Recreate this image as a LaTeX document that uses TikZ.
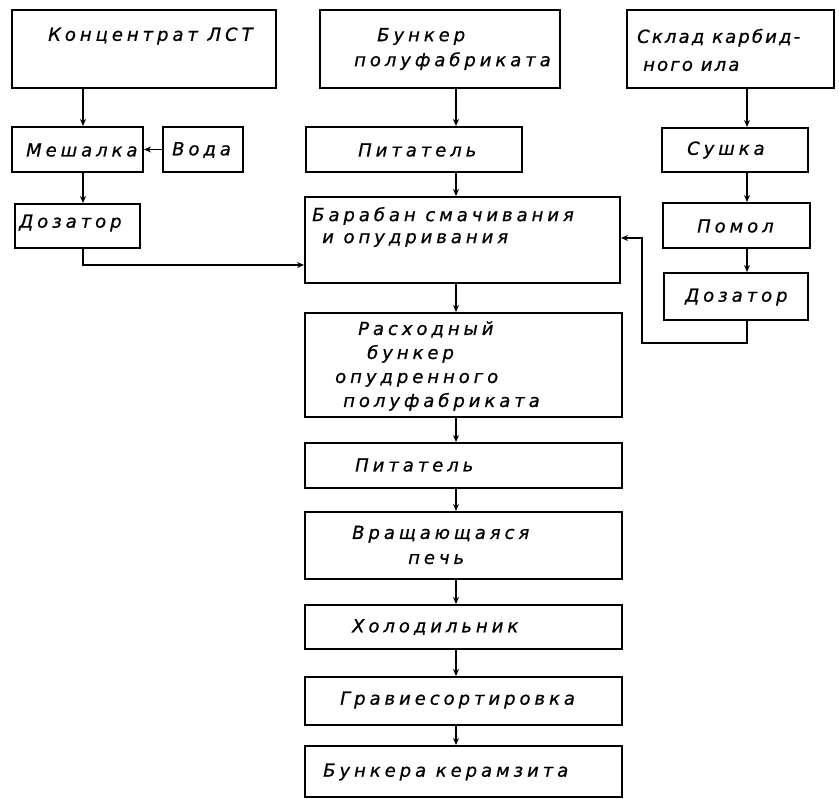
\documentclass[tikz,border=0pt]{standalone}
\usepackage{fontspec}
\usetikzlibrary{arrows.meta}
\newfontfamily\hand[LetterSpace=22,FakeBold=0.8]{DejaVu Sans}
\newfontfamily\handnarrow[LetterSpace=12,FakeBold=0.8]{DejaVu Sans}
\tikzset{
  unit/.style={draw, line width=2pt, inner sep=0pt},
  txt/.style={anchor=west, inner sep=0pt, align=left,
    font=\hand\itshape\fontsize{18}{25}\selectfont},
  flow/.style={line width=1.8pt, -{Stealth[length=7pt,width=6pt]}},
}
\begin{document}
\begin{tikzpicture}[x=1pt,y=-1pt]
    \useasboundingbox (0,0) rectangle (839,799);
    %% left branch
    \node[unit, minimum width=264pt, minimum height=78pt] (konc) at (144,49) {};
    \node[txt] (konct) at (48,36) {Концентрат ЛСТ};
    \node[unit, minimum width=131pt, minimum height=45pt] (mesh) at (77.5,149.5) {};
    \node[txt] (mesht) at (26,150) {Мешалка};
    \node[unit, minimum width=80pt, minimum height=45pt] (voda) at (203,149.5) {};
    \node[txt] (vodat) at (172,150) {Вода};
    \node[unit, minimum width=125pt, minimum height=44pt] (dozL) at (77.5,226) {};
    \node[txt] (dozLt) at (19,223) {Дозатор};
    %% main line
    \node[unit, minimum width=240pt, minimum height=78pt] (bunk) at (440,49) {};
    \node[txt] (bunkt) at (354,49) {\hspace{23pt}Бункер\\полуфабриката};
    \node[unit, minimum width=216pt, minimum height=45pt] (pit1) at (414,149.5) {};
    \node[txt] (pit1t) at (358,150) {Питатель};
    \node[unit, minimum width=315pt, minimum height=86pt] (baraban) at (462.5,240) {};
    \node[txt] (barabant) at (312,227) {Барабан смачивания\\[-3pt]\hspace{10pt}и опудривания};
    \node[unit, minimum width=317pt, minimum height=104pt] (rash) at (463.5,365) {};
    \node[txt] (rasht) at (335,366)
        {\hspace{23pt}Расходный\\[-1pt]\hspace{32pt}бункер\\[-1pt]опудренного\\[-1pt]\hspace{8pt}полуфабриката};
    \node[unit, minimum width=317pt, minimum height=45pt] (pit2) at (463.5,465.5) {};
    \node[txt] (pit2t) at (355,465) {Питатель};
    \node[unit, minimum width=317pt, minimum height=67pt] (pech) at (463.5,545.5) {};
    \node[txt] (pecht) at (352,545) {Вращающаяся\\\hspace{56pt}печь};
    \node[unit, minimum width=317pt, minimum height=44pt] (hol) at (463.5,627) {};
    \node[txt] (holt) at (352,627) {Холодильник};
    \node[unit, minimum width=317pt, minimum height=48pt] (grav) at (463.5,701) {};
    \node[txt] (gravt) at (340,700) {Гравиесортировка};
    \node[unit, minimum width=317pt, minimum height=51pt] (bkz) at (463.5,771.5) {};
    \node[txt] (bkzt) at (323,772) {Бункера керамзита};
    %% right branch
    \node[unit, minimum width=207pt, minimum height=78pt] (skl) at (730.5,49) {};
    \node[txt, font=\handnarrow\itshape\fontsize{18}{25}\selectfont] (sklt) at (637,50)
        {Склад карбид-\\[3pt]\hspace{6pt}ного ила};
    \node[unit, minimum width=146pt, minimum height=44pt] (sush) at (735,150) {};
    \node[txt] (susht) at (687,150) {Сушка};
    \node[unit, minimum width=147pt, minimum height=45pt] (pomol) at (736.5,225.5) {};
    \node[txt] (pomolt) at (697,226) {Помол};
    \node[unit, minimum width=144pt, minimum height=47pt] (dozR) at (736,296.5) {};
    \node[txt] (dozRt) at (685,297) {Дозатор};
    %% connectors
    \coordinate (lx) at (83,0);
    \coordinate (cx) at (456,0);
    \coordinate (rx) at (747,0);
    \coordinate (lowL) at (0,265);
    \coordinate (loopR) at (642,343);
    \coordinate (inB) at (0,238);
    \draw[flow] (konc.south -| lx) -- (mesh.north -| lx);
    \draw[flow] (mesh.south -| lx) -- (dozL.north -| lx);
    \draw[flow] (voda) -- (mesh);
    \draw[flow] (dozL.south -| lx) |- (baraban.west |- lowL);
    \foreach \a/\b in {bunk/pit1,pit1/baraban,baraban/rash,rash/pit2,pit2/pech,pech/hol,hol/grav,grav/bkz}
        \draw[flow] (\a.south -| cx) -- (\b.north -| cx);
    \foreach \a/\b in {skl/sush,sush/pomol,pomol/dozR}
        \draw[flow] (\a.south -| rx) -- (\b.north -| rx);
    \draw[flow] (dozR.south -| rx) |- (loopR) |- (baraban.east |- inB);
\end{tikzpicture}
\end{document}
